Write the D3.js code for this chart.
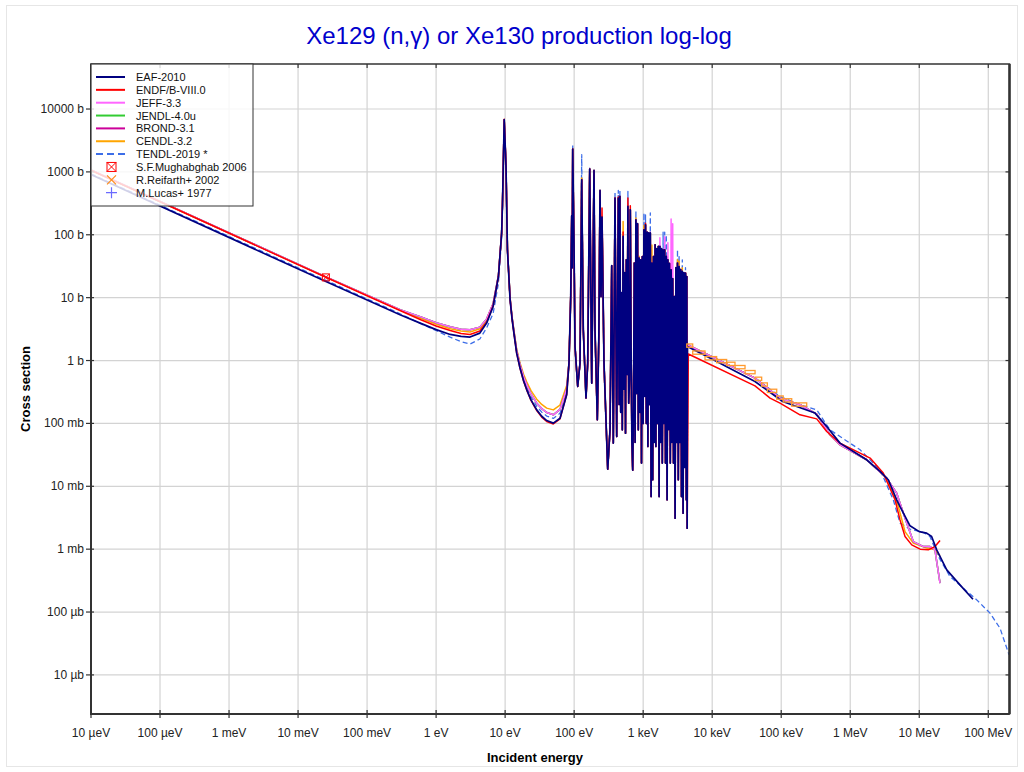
<!DOCTYPE html>
<html>
<head>
<meta charset="utf-8">
<script src="https://cdn.jsdelivr.net/npm/d3@7"></script>
<style>
  body { margin: 0; background: #fff; font-family: "Liberation Sans", Arial, sans-serif; }
</style>
</head>
<body>
<svg id="grafico" width="1024" height="772"></svg>
<script>
const ancho = 1024;
const alto = 772;
const caja = { izq: 91, der: 1009.5, arr: 64, aba: 714 };

// ejes
const ticksEnergia = [1e-5, 1e-4, 1e-3, 1e-2, 1e-1, 1, 10, 100, 1e3, 1e4, 1e5, 1e6, 1e7, 1e8];
const etiquetasEnergia = ["10 µeV", "100 µeV", "1 meV", "10 meV", "100 meV", "1 eV", "10 eV",
  "100 eV", "1 keV", "10 keV", "100 keV", "1 MeV", "10 MeV", "100 MeV"];
const ticksSeccion = [1e-5, 1e-4, 1e-3, 1e-2, 1e-1, 1, 10, 100, 1e3, 1e4];
const etiquetasSeccion = ["10 µb", "100 µb", "1 mb", "10 mb", "100 mb", "1 b", "10 b", "100 b", "1000 b", "10000 b"];

// energía (eV), sección eficaz (b) — región térmica y resonancia de 9.6 eV
const eafBajo = [[1e-5, 905], [0.0253, 18.0], [0.3, 5.35], [0.6, 3.9], [1, 3.1], [1.6, 2.6], [2.3, 2.42],
  [3.1, 2.36], [4.3, 2.73], [5.4, 3.94], [6.7, 7.24], [8.0, 21.7], [8.9, 106], [9.15, 300], [9.4, 1222],
  [9.7, 6760], [10.3, 1222], [10.8, 57.8], [11.8, 9.25], [12.6, 4.61], [13.45, 2.66], [14.7, 1.31],
  [16.4, 0.766], [18.5, 0.476], [20.6, 0.342], [23.7, 0.237], [28.7, 0.164], [33.9, 0.130], [40, 0.111],
  [49.9, 0.101], [62.4, 0.121], [78, 0.285]];
const endfBajo = [[1e-5, 1060], [0.0253, 21.1], [0.3, 6.25], [0.6, 4.45], [1, 3.55], [1.6, 3.0], [2.3, 2.7],
  [3.1, 2.6], [4.3, 2.95], [5.4, 4.1], [6.7, 7.4], [8.0, 21.7], [8.9, 106], [9.15, 300], [9.4, 1222],
  [9.7, 6900], [10.3, 1222], [10.8, 57.8], [11.8, 9.25], [12.6, 4.61], [13.45, 2.66], [14.7, 1.31],
  [16.4, 0.76], [18.5, 0.47], [20.6, 0.337], [23.7, 0.232], [28.7, 0.16], [33.9, 0.126], [40, 0.107],
  [49.9, 0.098], [62.4, 0.118], [78, 0.29]];
const jeffBajo = [[1e-5, 1075], [0.0253, 21.4], [0.3, 6.45], [0.6, 4.95], [1, 4.0], [1.6, 3.45], [2.3, 3.15],
  [3.1, 3.08], [4.3, 3.4], [5.4, 4.6], [6.7, 8.0], [8.0, 22.5], [8.9, 108], [9.15, 305], [9.4, 1240],
  [9.7, 6700], [10.3, 1240], [10.8, 60], [11.8, 9.8], [12.6, 4.84], [13.45, 2.85], [14.7, 1.44],
  [16.4, 0.866], [18.5, 0.552], [20.6, 0.41], [23.7, 0.294], [28.7, 0.21], [33.9, 0.172], [40, 0.149],
  [49.9, 0.137], [62.4, 0.167], [78, 0.356]];
const cendlBajo = [[1e-5, 1065], [0.0253, 21.2], [0.3, 6.35], [0.6, 4.7], [1, 3.8], [1.6, 3.2], [2.3, 2.95],
  [3.1, 2.85], [4.3, 3.2], [5.4, 4.4], [6.7, 7.8], [8.0, 22], [8.9, 107], [9.15, 302], [9.4, 1230],
  [9.7, 6750], [10.3, 1230], [10.8, 60], [11.8, 10], [12.6, 4.93], [13.45, 2.93], [14.7, 1.51],
  [16.4, 0.92], [18.5, 0.605], [20.6, 0.455], [23.7, 0.332], [28.7, 0.243], [33.9, 0.2], [40, 0.175],
  [49.9, 0.164], [62.4, 0.196], [78, 0.4]];
const tendlBajo = [[1e-5, 930], [0.0253, 18.8], [0.3, 5.55], [0.6, 3.86], [1, 3.0], [1.6, 2.35], [2.3, 2.0],
  [3.1, 1.83], [4.3, 2.2], [5.4, 3.3], [6.7, 5.6], [8.0, 17], [8.9, 90], [9.15, 270], [9.4, 1150],
  [9.7, 6700], [10.3, 1220], [10.8, 58], [11.8, 9.3], [12.6, 4.7], [13.45, 2.74], [14.7, 1.38],
  [16.4, 0.82], [18.5, 0.519], [20.6, 0.376], [23.7, 0.265], [28.7, 0.187], [33.9, 0.151], [40, 0.131],
  [49.9, 0.12], [62.4, 0.145], [78, 0.328]];

// resonancias resueltas, comunes a todas las evaluaciones
const resonancias = [[84.2, 0.911], [89.2, 10.4], [92.2, 201], [93.6, 30], [95.3, 2310], [99.5, 73.8],
  [102.9, 1.67], [112.6, 0.386], [121.6, 0.911], [128.7, 750], [135.7, 3.08], [148.5, 0.253],
  [157.2, 0.911], [168.1, 1110], [179.7, 0.438], [194.0, 1055], [200.5, 3.08], [216.6, 0.114],
  [228, 2.5], [237.0, 507], [245.0, 10.4], [253.3, 191], [270.7, 0.911], [306.4, 0.0187],
  [330.8, 0.0791], [350.1, 32.2], [369.3, 0.0486], [390.8, 384], [413.6, 0.0619],
  [436.3, 384], [448.1, 0.2], [460.3, 407], [472.8, 0.15], [485.6, 12], [498.7, 0.079], [512.2, 94],
  [526.1, 0.35], [540.3, 25], [554.9, 0.07], [569.9, 40], [585.4, 0.6], [601.2, 282], [617.4, 0.21],
  [634.2, 0.5], [651.2, 250], [668.7, 1.5], [686.8, 0.05], [705.4, 0.018], [724.4, 0.2],
  [744.0, 35.5], [764.2, 0.05], [784.8, 173], [806.1, 0.3], [827.9, 150], [850.3, 0.079], [873.3, 42.6],
  [896.9, 0.15], [921.1, 40], [946.0, 0.0234], [971.6, 45], [998.0, 0.1], [1025, 120], [1053, 0.27],
  [1081, 144], [1111, 0.1], [1141, 110], [1171, 0.043], [1203, 107], [1236, 0.2], [1269, 107],
  [1303, 0.00687], [1339, 35.5], [1375, 0.0127], [1412, 45], [1450, 0.05], [1489, 69.4], [1529, 0.043],
  [1571, 60], [1613, 0.1], [1657, 65.2], [1702, 0.00687], [1748, 65.2], [1795, 0.05], [1844, 60],
  [1894, 0.0234], [1945, 57.8], [1997, 0.1], [2051, 57.8], [2107, 0.0234], [2164, 45.2], [2222, 0.00609],
  [2282, 40], [2344, 0.08], [2407, 35], [2473, 0.0234], [2540, 27.8], [2608, 0.05], [2679, 20],
  [2751, 0.0234], [2825, 10.4], [2902, 0.00311], [2980, 30], [3061, 0.05], [3144, 35.5], [3229, 0.0127],
  [3316, 31.3], [3405, 0.05], [3497, 28], [3592, 0.00687], [3690, 26.1], [3789, 0.00374], [3892, 25],
  [3997, 0.02], [4105, 24.6], [4217, 0.00609], [4290, 21.7], [4340, 0.00216]];

// picos donde cada evaluación sobresale
const tendlPicos = [[95.3, 2700], [128.7, 1875], [168.1, 1150], [237.0, 536], [390.8, 489], [436.3, 508],
  [460.3, 522], [601.2, 489], [784.8, 237], [1025, 222], [1081, 208], [1269, 222], [1945, 110],
  [2051, 110], [2164, 100], [3144, 57.8], [3316, 45], [3690, 40], [4105, 30]];
const endfPicos = [[253.3, 266], [436.3, 400], [512.2, 111], [601.2, 384], [651.2, 290], [1081, 152]];
const cendlPicos = [[128.7, 800], [512.2, 163], [784.8, 185], [873.3, 45.5], [1025, 140], [1339, 69],
  [3144, 40], [3316, 38], [3690, 30]];
const jeffPicos = [[1269, 110], [1748, 90], [2051, 93], [2282, 75], [2540, 178], [2679, 150]];

// continuo
const eafAlto = [[4365, 1.67], [10400, 1.03], [41700, 0.464], [105000, 0.223], [309000, 0.146],
  [456000, 0.0893], [711000, 0.0486], [1.11e6, 0.0357], [1.73e6, 0.0264], [2.70e6, 0.0172],
  [3.56e6, 0.0127], [4.71e6, 0.0061], [5.26e6, 0.00476], [7.35e6, 0.00235], [1.0e7, 0.0019],
  [1.28e7, 0.0018], [1.51e7, 0.00159], [1.79e7, 9.75e-4], [2.5e7, 4.69e-4], [3.89e7, 2.7e-4], [6.0e7, 1.6e-4]];
const endfAlto = [[4510, 1.27], [41700, 0.396], [68900, 0.253], [96100, 0.210], [187000, 0.137],
  [327000, 0.118], [456000, 0.0743], [711000, 0.0486], [1.94e6, 0.0281], [3.01e6, 0.0162],
  [4.46e6, 0.0061], [5.26e6, 0.00292], [6.22e6, 0.00159], [7.78e6, 0.00117], [1.03e7, 0.0010],
  [1.35e7, 9.75e-4], [1.69e7, 1.10e-3], [2.0e7, 1.37e-3]];
const jeffAlto = [[4370, 1.78], [10400, 1.12], [41700, 0.526], [96100, 0.252], [187000, 0.198],
  [327000, 0.14], [509000, 0.0659], [711000, 0.0457], [1.73e6, 0.0264], [3.38e6, 0.0135],
  [4.71e6, 0.00778], [6.58e6, 0.0026], [8.2e6, 0.00132], [1.15e7, 0.0011], [1.43e7, 0.0011],
  [1.69e7, 9.75e-4], [1.79e7, 6.35e-4], [2.0e7, 2.88e-4]];
const cendlAlto = [[4370, 1.78], [10400, 1.12], [41700, 0.526], [96100, 0.252], [187000, 0.198],
  [327000, 0.14], [509000, 0.0659], [711000, 0.0457], [1.73e6, 0.0264], [3.38e6, 0.0135],
  [4.98e6, 0.00476], [6.22e6, 0.0019], [8.2e6, 0.00125], [1.28e7, 0.00104], [1.69e7, 9.75e-4], [2.0e7, 7.83e-4]];
const tendlAlto = [[4370, 1.78], [10400, 1.12], [41700, 0.526], [96100, 0.268], [187000, 0.198],
  [327000, 0.164], [509000, 0.079], [1.39e6, 0.038], [2.70e6, 0.0183], [4.21e6, 0.0061],
  [5.26e6, 0.0026], [7.35e6, 0.00208], [1.15e7, 0.00184], [1.43e7, 0.00159], [1.89e7, 7.63e-4],
  [2.79e7, 3.67e-4], [4.35e7, 2.39e-4], [6.81e7, 1.56e-4], [1.06e8, 9.6e-5], [1.48e8, 5.53e-5], [2.0e8, 2.08e-5]];

// datos experimentales
const mughabghab = [[0.0253, 21.0]];
// [E inferior, E superior, sección, error relativo]
const reifarth = [[4280, 5220, 1.73, 0.06], [5220, 7870, 1.34, 0.06], [7870, 11600, 1.09, 0.06],
  [11600, 16200, 0.98, 0.06], [16200, 21400, 0.887, 0.06], [21400, 29900, 0.787, 0.06],
  [29900, 41800, 0.655, 0.06], [41800, 52100, 0.513, 0.06], [52100, 63000, 0.416, 0.06],
  [63000, 86100, 0.33, 0.06], [86100, 107000, 0.258, 0.06], [107000, 142000, 0.233, 0.06],
  [142000, 234000, 0.20, 0.06]];
const lucas = [];

function armarSerie(bajo, picos, altoE) {
  const res = resonancias.map(p => {
    const t = picos.find(q => q[0] === p[0]);
    return t ? t : p;
  });
  return bajo.concat(res, altoE);
}

// JENDL-4.0u y BROND-3.1 coinciden con JEFF-3.3 y quedan tapadas
const series = [
  { nombre: "EAF-2010", color: "#000080", datos: armarSerie(eafBajo, [], eafAlto), grosor: 1.7 },
  { nombre: "ENDF/B-VIII.0", color: "#ff0000", datos: armarSerie(endfBajo, endfPicos, endfAlto) },
  { nombre: "JEFF-3.3", color: "#ff66ff", datos: armarSerie(jeffBajo, jeffPicos, jeffAlto) },
  { nombre: "JENDL-4.0u", color: "#33cc33", datos: armarSerie(jeffBajo, [], jeffAlto) },
  { nombre: "BROND-3.1", color: "#cc0099", datos: armarSerie(jeffBajo, [], jeffAlto) },
  { nombre: "CENDL-3.2", color: "#ffa500", datos: armarSerie(cendlBajo, cendlPicos, cendlAlto) },
  { nombre: "TENDL-2019 *", color: "#3d6ee8", datos: armarSerie(tendlBajo, tendlPicos, tendlAlto), guiones: "5,3" }
];

const svg = d3.select("#grafico");

const x = d3.scaleLog().domain([1e-5, 2.03e8]).range([caja.izq, caja.der]);
const y = d3.scaleLog().domain([2.39e-6, 5.2e4]).range([caja.aba, caja.arr]);

// marco de página
svg.append("rect")
  .attr("x", 6.5).attr("y", 5.5)
  .attr("width", 1011).attr("height", 761)
  .attr("fill", "#fff")
  .attr("stroke", "#e6e6e6");

// título
svg.append("text")
  .attr("x", 519).attr("y", 44)
  .attr("text-anchor", "middle")
  .attr("fill", "#0000cc")
  .attr("font-size", 24)
  .text("Xe129 (n,γ) or Xe130 production log-log");

// rejilla
const gRejilla = svg.append("g");
gRejilla.selectAll("line.v").data(ticksEnergia).join("line")
  .attr("x1", d => x(d)).attr("x2", d => x(d))
  .attr("y1", caja.arr).attr("y2", caja.aba)
  .attr("stroke", "#d3d3d3").attr("stroke-width", 1.2);
gRejilla.selectAll("line.h").data(ticksSeccion).join("line")
  .attr("x1", caja.izq).attr("x2", caja.der)
  .attr("y1", d => y(d)).attr("y2", d => y(d))
  .attr("stroke", "#d3d3d3").attr("stroke-width", 1.2);

svg.append("defs").append("clipPath").attr("id", "recorte")
  .append("rect")
  .attr("x", caja.izq).attr("y", caja.arr)
  .attr("width", caja.der - caja.izq).attr("height", caja.aba - caja.arr);

const gCurvas = svg.append("g").attr("clip-path", "url(#recorte)");

const linea = d3.line().x(d => x(d[0])).y(d => y(d[1]));

// orden inverso a la leyenda: EAF queda encima
series.slice().reverse().forEach(s => {
  gCurvas.append("path")
    .datum(s.datos)
    .attr("fill", "none")
    .attr("stroke", s.color)
    .attr("stroke-width", s.grosor || (s.guiones ? 1.3 : 1.5))
    .attr("stroke-dasharray", s.guiones || null)
    .attr("stroke-linejoin", "round")
    .attr("d", linea);
});

// Reifarth: cajas de error
gCurvas.selectAll("rect.reifarth").data(reifarth).join("rect")
  .attr("x", d => x(d[0]))
  .attr("width", d => x(d[1]) - x(d[0]))
  .attr("y", d => y(d[2] * (1 + d[3])))
  .attr("height", d => y(d[2] * (1 - d[3])) - y(d[2] * (1 + d[3])))
  .attr("fill", "none")
  .attr("stroke", "#ff9a2e")
  .attr("stroke-width", 1.3);

// Mughabghab: cuadrado con aspa
const gMugh = gCurvas.selectAll("g.mugh").data(mughabghab).join("g")
  .attr("transform", d => `translate(${x(d[0])},${y(d[1])})`);
gMugh.append("rect").attr("x", -3.5).attr("y", -3.5).attr("width", 7).attr("height", 7)
  .attr("fill", "none").attr("stroke", "#ff0000").attr("stroke-width", 1);
gMugh.append("path").attr("d", "M-3.5,-3.5L3.5,3.5M3.5,-3.5L-3.5,3.5")
  .attr("stroke", "#ff0000").attr("stroke-width", 1);

gCurvas.selectAll("path.lucas").data(lucas).join("path")
  .attr("transform", d => `translate(${x(d[0])},${y(d[1])})`)
  .attr("d", "M-4,0H4M0,-4V4")
  .attr("stroke", "#6b6bff");

// marco y ticks
const colorEje = "#333";
svg.append("rect")
  .attr("x", caja.izq).attr("y", caja.arr)
  .attr("width", caja.der - caja.izq).attr("height", caja.aba - caja.arr)
  .attr("fill", "none").attr("stroke", colorEje).attr("stroke-width", 1.5);
svg.append("line").attr("x1", caja.izq).attr("x2", caja.izq).attr("y1", caja.arr).attr("y2", caja.aba + 1)
  .attr("stroke", colorEje).attr("stroke-width", 2);
svg.append("line").attr("x1", caja.izq - 1).attr("x2", caja.der).attr("y1", caja.aba).attr("y2", caja.aba)
  .attr("stroke", colorEje).attr("stroke-width", 2);
svg.append("line").attr("x1", caja.der).attr("x2", caja.der).attr("y1", caja.arr).attr("y2", caja.aba)
  .attr("stroke", colorEje).attr("stroke-width", 2.5);

const gTicks = svg.append("g").attr("stroke", colorEje).attr("stroke-width", 1.2);
ticksEnergia.forEach(t => {
  gTicks.append("line").attr("x1", x(t)).attr("x2", x(t)).attr("y1", caja.aba - 4).attr("y2", caja.aba + 4);
  gTicks.append("line").attr("x1", x(t)).attr("x2", x(t)).attr("y1", caja.arr).attr("y2", caja.arr + 4);
});
ticksSeccion.forEach(t => {
  gTicks.append("line").attr("x1", caja.izq - 5).attr("x2", caja.izq + 3).attr("y1", y(t)).attr("y2", y(t));
  gTicks.append("line").attr("x1", caja.der - 4).attr("x2", caja.der).attr("y1", y(t)).attr("y2", y(t));
});

svg.append("g").selectAll("text").data(ticksEnergia).join("text")
  .attr("x", d => x(d)).attr("y", caja.aba + 23)
  .attr("text-anchor", "middle").attr("font-size", 12).attr("fill", "#222")
  .text((d, i) => etiquetasEnergia[i]);
svg.append("g").selectAll("text").data(ticksSeccion).join("text")
  .attr("x", caja.izq - 7).attr("y", d => y(d) + 4)
  .attr("text-anchor", "end").attr("font-size", 12).attr("fill", "#222")
  .text((d, i) => etiquetasSeccion[i]);

svg.append("text")
  .attr("x", 535).attr("y", 762)
  .attr("text-anchor", "middle").attr("font-size", 13).attr("font-weight", "bold")
  .text("Incident energy");
svg.append("text")
  .attr("transform", "translate(30,389) rotate(-90)")
  .attr("text-anchor", "middle").attr("font-size", 13).attr("font-weight", "bold")
  .text("Cross section");

// leyenda
const gLeyenda = svg.append("g");
gLeyenda.append("rect")
  .attr("x", caja.izq).attr("y", caja.arr)
  .attr("width", 162).attr("height", 142)
  .attr("fill", "#fff").attr("fill-opacity", 0.82)
  .attr("stroke", colorEje).attr("stroke-width", 1);

const entradas = series.map(s => ({ nombre: s.nombre, color: s.color, tipo: "linea", guiones: s.guiones }))
  .concat([
    { nombre: "S.F.Mughabghab 2006", color: "#ff0000", tipo: "cuadro" },
    { nombre: "R.Reifarth+ 2002", color: "#ff8c1a", tipo: "aspa" },
    { nombre: "M.Lucas+ 1977", color: "#6b6bff", tipo: "cruz" }
  ]);

entradas.forEach((e, i) => {
  const yy = 77 + i * 12.85;
  const g = gLeyenda.append("g");
  if (e.tipo === "linea") {
    g.append("line").attr("x1", 96).attr("x2", 125).attr("y1", yy).attr("y2", yy)
      .attr("stroke", e.color).attr("stroke-width", 2)
      .attr("stroke-dasharray", e.guiones ? "7,4" : null);
  } else if (e.tipo === "cuadro") {
    g.append("rect").attr("x", 107).attr("y", yy - 4.5).attr("width", 9).attr("height", 9)
      .attr("fill", "none").attr("stroke", e.color);
    g.append("path").attr("d", `M107,${yy - 4.5}L116,${yy + 4.5}M116,${yy - 4.5}L107,${yy + 4.5}`)
      .attr("stroke", e.color);
  } else if (e.tipo === "aspa") {
    g.append("path").attr("d", `M107,${yy - 4.5}L116,${yy + 4.5}M116,${yy - 4.5}L107,${yy + 4.5}`)
      .attr("stroke", e.color).attr("stroke-width", 1.2);
  } else {
    g.append("path").attr("d", `M106,${yy}H117M111.5,${yy - 5.5}V${yy + 5.5}`)
      .attr("stroke", e.color).attr("stroke-width", 1.2);
  }
  g.append("text").attr("x", 136).attr("y", yy + 4)
    .attr("font-size", 11).attr("fill", "#111")
    .text(e.nombre);
});
</script>
</body>
</html>
